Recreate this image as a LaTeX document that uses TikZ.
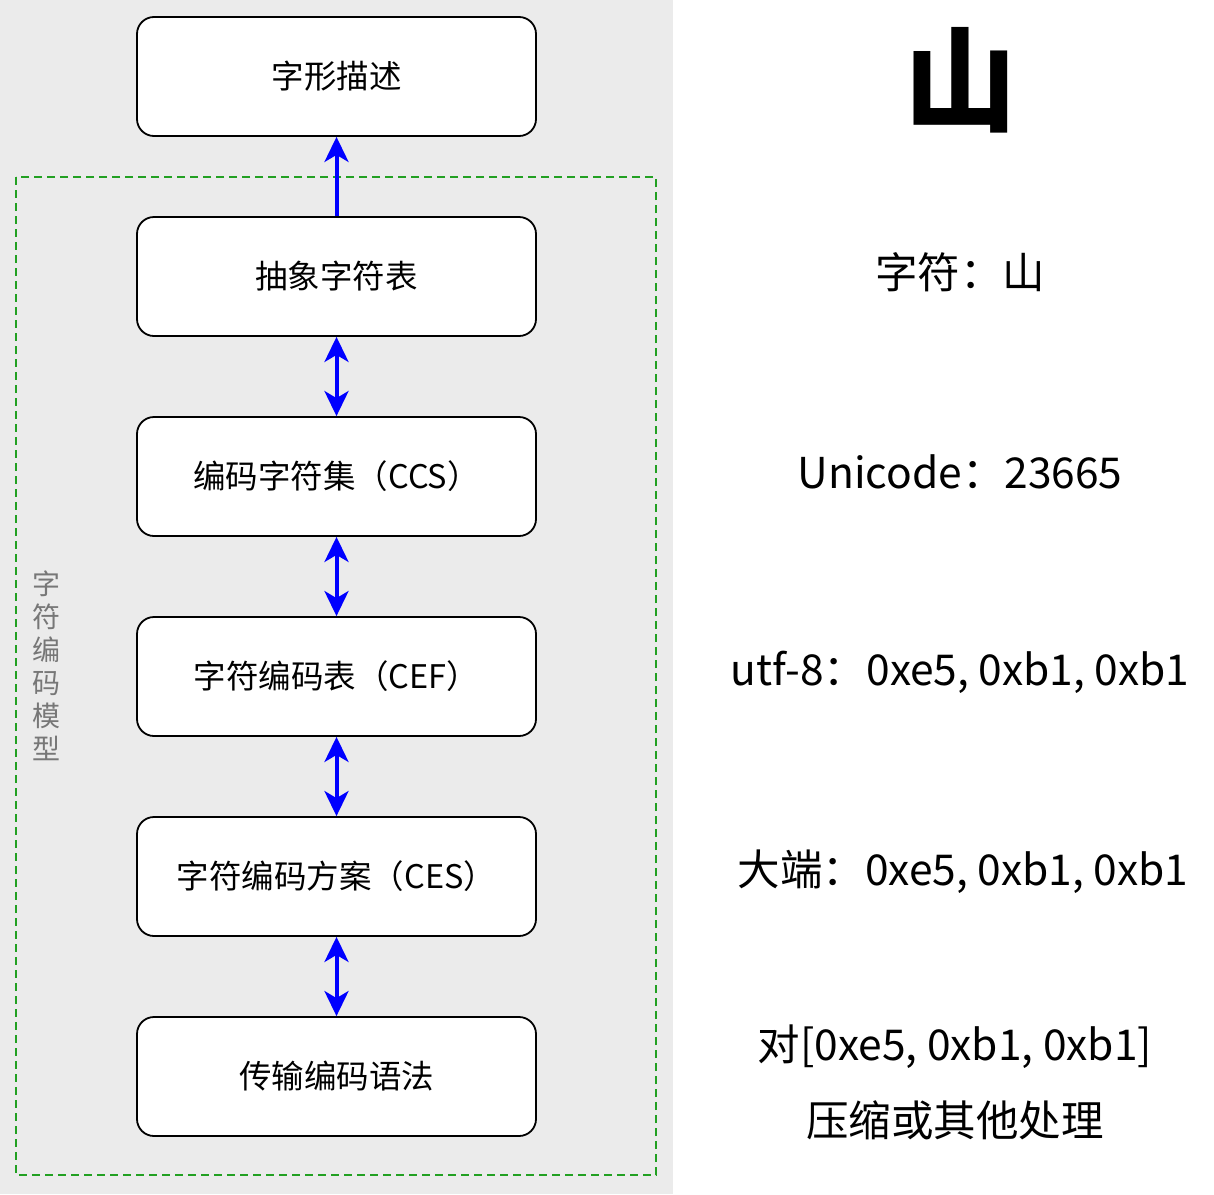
\documentclass[tikz,border=0pt]{standalone}
\usepackage{fontspec}
\setmainfont{Noto Sans CJK SC}
\usetikzlibrary{arrows.meta}
\definecolor{bggray}{HTML}{EBEBEB}
\definecolor{dashgreen}{HTML}{22A022}
\definecolor{labelgray}{HTML}{777777}
\begin{document}
\begin{tikzpicture}[x=1pt,y=-1pt,
  stagebox/.style={draw=black, line width=1.8pt, fill=white, rounded corners=17pt,
    minimum width=399pt, minimum height=119pt, inner sep=0pt,
    font=\fontsize{32.5}{38}\selectfont},
  flow/.style={draw=blue, line width=4pt},
  tip/.style={-{Stealth[length=25pt,width=24pt,inset=7pt]}},
  bothtip/.style={{Stealth[length=25pt,width=24pt,inset=7pt]}-{Stealth[length=25pt,width=24pt,inset=7pt]}},
  info/.style={font=\fontsize{42.5}{50}\selectfont, anchor=center}]
\useasboundingbox (0,0) rectangle (1214,1194);
\fill[bggray] (0,0) rectangle (673,1194);
\fill[white] (673,0) rectangle (1214,1194);
\draw[dashgreen, line width=2pt, dash pattern=on 8pt off 5pt] (16,177) rectangle (656,1175);

\node[stagebox] (b1) at (336.5,76.5) {字形描述};
\node[stagebox] (b2) at (336.5,276.5) {抽象字符表};
\node[stagebox] (b3) at (336.5,476.5) {编码字符集（CCS）};
\node[stagebox] (b4) at (336.5,676.5) {字符编码表（CEF）};
\node[stagebox] (b5) at (336.5,876.5) {字符编码方案（CES）};
\node[stagebox] (b6) at (336.5,1076.5) {传输编码语法};

\draw[flow, tip] (b2.north) -- (b1.south);
\draw[flow, bothtip] (b2.south) -- (b3.north);
\draw[flow, bothtip] (b3.south) -- (b4.north);
\draw[flow, bothtip] (b4.south) -- (b5.north);
\draw[flow, bothtip] (b5.south) -- (b6.north);

\node[text=labelgray, font=\fontsize{28}{33}\selectfont, align=center, inner sep=0pt] (vlabel) at (46,666)
  {字\\符\\编\\码\\模\\型};

\node[font=\fontsize{112}{120}\selectfont\bfseries] (glyph) at (960,80) {山};
\node[info] (t1) at (960,272) {字符：山};
\node[info] (t2) at (960,472) {Unicode：23665};
\node[info] (t3) at (960,672) {utf-8：0xe5, 0xb1, 0xb1};
\node[info] (t4) at (963,872) {大端：0xe5, 0xb1, 0xb1};
\node[info] (t5) at (955,1047) {对[0xe5, 0xb1, 0xb1]};
\node[info] (t6) at (955,1120) {压缩或其他处理};
\end{tikzpicture}
\end{document}
